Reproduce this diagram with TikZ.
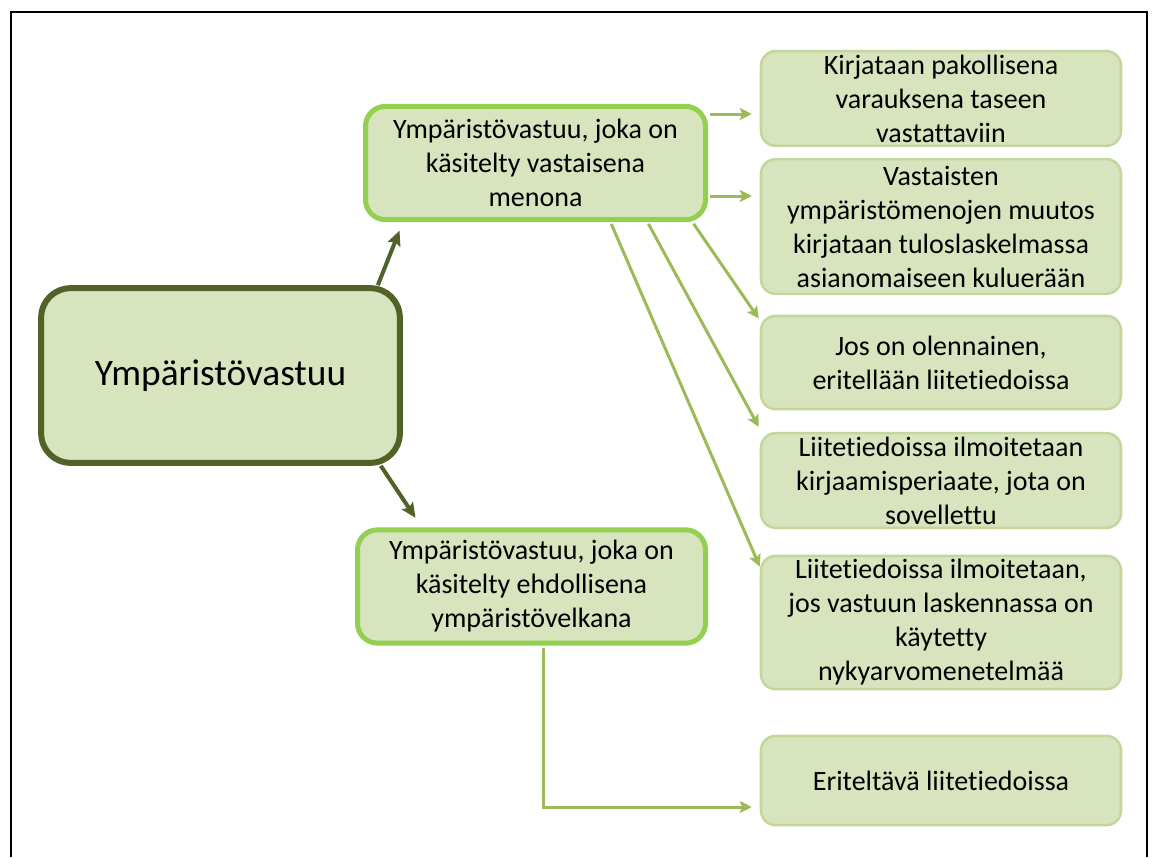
\documentclass[tikz,border=0pt]{standalone}
\usepackage{fontspec}
\setmainfont[RawFeature={-liga;-clig;-calt;-dlig}]{Carlito}
\usetikzlibrary{arrows.meta}
\definecolor{darkolive}{RGB}{79,98,40}
\definecolor{boxfill}{RGB}{215,228,189}
\definecolor{midline}{RGB}{146,208,80}
\definecolor{leafline}{RGB}{195,214,155}
\definecolor{leafgreen}{RGB}{155,187,89}
\begin{document}
\begin{tikzpicture}[x=0.75pt, y=-0.75pt,
  every node/.style={font=\fontsize{21}{25.5}\selectfont, align=center, text=black},
  rootbox/.style={draw=darkolive, line width=4.5pt, fill=boxfill, rounded corners=22pt, minimum width=269pt, minimum height=131pt, font=\fontsize{28}{34}\selectfont},
  midbox/.style={draw=midline, line width=3.75pt, fill=boxfill, rounded corners=15pt, minimum width=255pt, minimum height=85pt, inner ysep=-20pt},
  leafbox/.style={draw=leafline, line width=1.9pt, fill=boxfill, rounded corners=11pt, minimum width=270pt, inner ysep=-20pt},
  rootarrow/.style={-{Stealth[length=11pt,width=10pt,inset=2pt]}, draw=darkolive, line width=3pt},
  leafarrow/.style={-{Stealth[length=9pt,width=9pt,inset=2pt]}, draw=leafgreen, line width=2.25pt, shorten <=1.5pt}]
\useasboundingbox (0,0) rectangle (1160,857);
\draw[line width=2pt] (11,857) -- (11,12) -- (1147,12) -- (1147,857);
\node[rootbox] (root) at (220.5,375.5) {Ympäristövastuu};
\node[midbox] (vastainen) at (535.5,163) {Ympäristövastuu, joka on\\käsitelty vastaisena\\menona};
\node[midbox, minimum width=261pt] (ehdollinen) at (531.5,586.5) {Ympäristövastuu, joka on\\käsitelty ehdollisena\\ympäristövelkana};
\node[leafbox, minimum height=71pt] (varaus) at (941,98.5) {Kirjataan pakollisena\\varauksena taseen\\vastattaviin};
\node[leafbox, minimum height=101pt] (muutos) at (941,226.5) {Vastaisten\\ympäristömenojen muutos\\kirjataan tuloslaskelmassa\\asianomaiseen kuluerään};
\node[leafbox, minimum height=70pt] (olennainen) at (941,362.5) {Jos on olennainen,\\eritellään liitetiedoissa};
\node[leafbox, minimum height=71pt] (periaate) at (941,480.5) {Liitetiedoissa ilmoitetaan\\kirjaamisperiaate, jota on\\sovellettu};
\node[leafbox, minimum height=100pt] (nykyarvo) at (941,622.5) {Liitetiedoissa ilmoitetaan,\\jos vastuun laskennassa on\\käytetty\\nykyarvomenetelmää};
\node[leafbox, minimum height=67pt] (eritelty) at (941,780.5) {Eriteltävä liitetiedoissa};
\draw[rootarrow] ([shift={(-25,0)}]root.north east) -- ([shift={(36.5,8.5)}]vastainen.south west);
\draw[rootarrow] ([shift={(-22,0)}]root.south east) -- ([shift={(60.5,-9.5)}]ehdollinen.north west);
\draw[leafarrow] ([shift={(0,-49)}]vastainen.east) -- ([shift={(-8,15.5)}]varaus.west);
\draw[leafarrow] ([shift={(0,33)}]vastainen.east) -- ([shift={(-8,-30.5)}]muutos.west);
\draw[leafarrow] ([shift={(-15.5,0)}]vastainen.south east) -- ([shift={(-1,4)}]olennainen.north west);
\draw[leafarrow] ([shift={(-60.5,0)}]vastainen.south east) -- ([shift={(-1,-5)}]periaate.north west);
\draw[leafarrow] ([shift={(-97.5,0)}]vastainen.south east) -- ([shift={(0,12)}]nykyarvo.north west);
\draw[leafarrow] ([shift={(11.5,0)}]ehdollinen.south) |- ([shift={(-8,26.5)}]eritelty.west);
\end{tikzpicture}
\end{document}
